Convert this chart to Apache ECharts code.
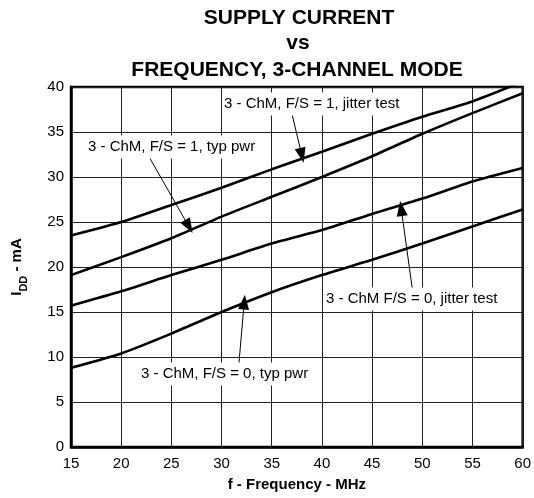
<!DOCTYPE html>
<html>
<head>
<meta charset="utf-8">
<script src="https://cdn.jsdelivr.net/npm/echarts@6/dist/echarts.min.js"></script>
<style>html,body{margin:0;padding:0;background:#fff;}#c{width:534px;height:498px;}</style>
</head>
<body>
<div id="c"></div>
<script>
// Data
var freq = [15, 20, 25, 30, 35, 40, 45, 50, 55, 60];
var fs1Jitter = [23.5, 25.0, 26.9, 28.8, 30.85, 32.8, 34.8, 36.7, 38.4, 40.6];
var fs1Typ    = [19.1, 21.1, 23.2, 25.6, 27.8, 30.0, 32.3, 34.8, 37.1, 39.3];
var fs0Jitter = [15.7, 17.3, 19.1, 20.8, 22.6, 24.1, 25.9, 27.6, 29.5, 31.0];
var fs0Typ    = [8.8, 10.4, 12.6, 15.0, 17.2, 19.1, 20.8, 22.6, 24.5, 26.4];

var xTicks = { min: 15, max: 60, interval: 5 };
var yTicks = { min: 0, max: 40, interval: 5 };

// Annotation labels and arrows (arrow start -> tip, in data units)
var annoText = [
  '3 - ChM, F/S = 1, jitter test',
  '3 - ChM, F/S = 1, typ pwr',
  '3 - ChM F/S = 0, jitter test',
  '3 - ChM, F/S = 0, typ pwr'
];
var arrowStart = [[37.0, 37.1], [22.85, 32.1], [49.0, 17.6], [31.7, 8.9]];
var arrowTip   = [[38.0, 32.4], [26.74, 24.5], [47.9, 26.5], [32.26, 16.1]];

function pairs(xs, ys) { return xs.map(function (x, i) { return [x, ys[i]]; }); }

var FONT = '"Liberation Sans", Arial, Helvetica, sans-serif';
var chart = echarts.init(document.getElementById('c'), null, { renderer: 'canvas' });

function lineSeries(name, ys) {
  return {
    name: name, type: 'line', data: pairs(freq, ys),
    showSymbol: false, smooth: 0.2, clip: true,
    lineStyle: { color: '#000', width: 2.6 },
    z: 3, silent: true
  };
}

var arrowData = arrowStart.map(function (s, i) {
  return [{ coord: s }, { coord: arrowTip[i] }];
});

var series = [
  lineSeries('fs1Jitter', fs1Jitter),
  lineSeries('fs1Typ', fs1Typ),
  lineSeries('fs0Jitter', fs0Jitter),
  lineSeries('fs0Typ', fs0Typ)
];
series[0].markLine = {
  silent: true, animation: false,
  symbol: ['none', 'triangle'], symbolSize: [11, 15],
  label: { show: false },
  lineStyle: { color: '#000', width: 1, type: 'solid' },
  data: arrowData
};

var annoPos = [[222, 104], [86, 147], [324, 299], [139, 374]];

var graphics = [
  { type: 'text', style: { text: 'SUPPLY CURRENT', x: 299, y: 18, textAlign: 'center', textVerticalAlign: 'middle', font: 'bold 21px ' + FONT, fill: '#000' } },
  { type: 'text', style: { text: 'vs', x: 298, y: 43.5, textAlign: 'center', textVerticalAlign: 'middle', font: 'bold 21px ' + FONT, fill: '#000' } },
  { type: 'text', style: { text: 'FREQUENCY, 3-CHANNEL MODE', x: 297, y: 70, textAlign: 'center', textVerticalAlign: 'middle', font: 'bold 21px ' + FONT, fill: '#000' } }
];
annoText.forEach(function (t, i) {
  graphics.push({
    type: 'text', z: 10,
    style: {
      text: t, x: annoPos[i][0], y: annoPos[i][1],
      textAlign: 'left', textVerticalAlign: 'middle',
      font: '15px ' + FONT, fill: '#000',
      backgroundColor: '#fff', padding: [4, 2, 4, 2]
    }
  });
});

chart.setOption({
  animation: false,
  backgroundColor: '#fff',
  grid: { left: 71, right: 9, top: 87, bottom: 51, show: true, borderColor: '#000', borderWidth: 2.5, backgroundColor: 'transparent' },
  xAxis: {
    type: 'value', min: xTicks.min, max: xTicks.max, interval: xTicks.interval,
    name: 'f - Frequency - MHz', nameLocation: 'middle', nameGap: 30,
    nameTextStyle: { fontFamily: FONT, fontSize: 15, fontWeight: 'bold', color: '#000' },
    axisLine: { show: true, lineStyle: { color: '#000', width: 2.5 } },
    axisTick: { show: false },
    axisLabel: { fontFamily: FONT, fontSize: 15, color: '#000', margin: 9 },
    splitLine: { show: true, lineStyle: { color: '#222', width: 1 } }
  },
  yAxis: {
    type: 'value', min: yTicks.min, max: yTicks.max, interval: yTicks.interval,
    name: '{i|I}{s|DD}{i| - mA}', nameLocation: 'middle', nameGap: 42,
    nameTextStyle: {
      color: '#000',
      rich: {
        i: { fontFamily: FONT, fontSize: 15, fontWeight: 'bold', color: '#000', lineHeight: 24, verticalAlign: 'middle' },
        s: { fontFamily: FONT, fontSize: 11, fontWeight: 'bold', color: '#000', lineHeight: 24, verticalAlign: 'bottom' }
      }
    },
    axisLine: { show: true, lineStyle: { color: '#000', width: 2.5 } },
    axisTick: { show: false },
    axisLabel: { fontFamily: FONT, fontSize: 15, color: '#000', margin: 7 },
    splitLine: { show: true, lineStyle: { color: '#222', width: 1 } }
  },
  series: series,
  graphic: graphics
});
</script>
</body>
</html>
